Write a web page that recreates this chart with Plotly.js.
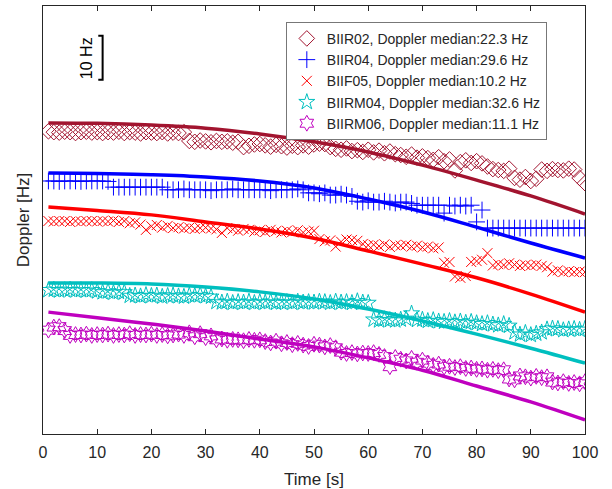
<!DOCTYPE html>
<html><head><meta charset="utf-8">
<script src="https://cdn.plot.ly/plotly-3.0.1.min.js"></script>
<style>html,body{margin:0;padding:0;background:#fff}#chart{width:612px;height:489px}</style>
</head><body><div id="chart"></div>
<script>
const time = Array.from({length: 100}, (_, i) => i + 1);
const fitTime = [1, 10, 20, 30, 40, 50, 60, 70, 80, 90, 100];

const names = [
  'BIIR02, Doppler median:22.3 Hz',
  'BIIR04, Doppler median:29.6 Hz',
  'BIIF05, Doppler median:10.2 Hz',
  'BIIRM04, Doppler median:32.6 Hz',
  'BIIRM06, Doppler median:11.1 Hz'
];

const obsBIIR02 = [68.8,68.6,68.5,68.7,68.6,68.4,68.6,68.7,68.5,68.6,
  68.4,68.6,68.5,68.7,68.4,68.6,68.5,68.3,68.6,68.5,
  68.4,68.6,68.3,68.5,68.4,68.6,
  66.6,66.4,66.7,66.5,66.3,66.6,66.4,66.5,66.2,66.4,
  65.2,65.5,65.8,65.9,
  65.6,65.3,65.7,65.4,65.1,65.5,65.2,65.6,65.3,65.8,
  66.0,65.9,65.2,64.8,64.6,64.9,64.3,64.5,64.1,64.6,
  64.0,64.4,63.8,64.2,63.6,63.4,63.0,63.5,62.8,63.1,
  62.7,62.3,62.9,62.0,62.4,59.9,61.8,62.2,61.6,62.0,
  61.5,60.8,60.2,60.0,59.8,60.3,58.2,57.8,58.4,57.5,
  58.0,60.1,59.8,60.2,60.0,59.9,60.3,60.1,58.2,57.0];

const obsBIIR04 = [57.5,57.5,57.4,57.5,57.5,57.5,57.4,57.5,57.5,57.5,57.5,57.4,
  56.1,56.1,56.1,56.1,56.1,56.1,56.1,56.1,56.1,56.1,
  55.5,55.5,55.5,55.7,55.5,55.5,55.5,55.5,55.3,55.5,55.5,55.5,55.7,55.5,55.5,55.5,55.5,55.5,55.5,55.3,55.5,55.5,55.5,55.5,55.7,55.5,
  54.8,54.8,54.6,54.8,54.3,54.3,54.5,54.3,54.0,
  52.9,52.7,53.0,52.7,52.7,52.9,52.7,52.5,52.7,52.7,52.4,
  52.0,52.0,52.0,52.0,52.0,
  50.2,
  52.0,51.8,52.0,51.8,52.0,
  48.2,50.9,
  46.8,46.8,46.8,46.8,46.8,46.8,46.8,46.8,46.8,46.8,46.8,46.8,46.8,46.8,46.8,46.8,46.8,46.8,46.8];

const obsBIIF05 = [48.4,48.3,48.4,48.4,48.2,48.4,48.3,48.4,48.4,48.3,
  48.4,48.3,48.5,48.2,48.4,47.9,48.1,47.6,46.4,47.2,
  47.5,46.9,47.3,46.8,47.0,46.7,46.9,46.6,46.8,46.9,
  46.7,46.5,45.7,46.8,46.5,46.2,46.6,46.4,46.0,46.3,
  45.9,46.4,46.1,45.8,46.2,45.9,46.3,45.8,46.0,46.2,
  44.3,43.8,44.0,42.6,43.7,44.2,44.1,43.9,43.2,42.9,
  43.0,42.7,43.1,42.5,42.9,42.8,43.0,42.6,42.8,42.4,
  42.6,42.2,42.4,38.9,39.1,35.8,35.5,35.9,39.1,39.3,
  39.6,41.1,38.3,38.6,38.4,38.8,38.5,38.2,38.4,38.3,
  38.5,38.2,37.9,36.9,37.2,36.8,37.0,36.8,36.9,36.8];

const obsBIIRM04 = [32.7,32.8,32.6,32.7,32.8,32.6,32.7,32.6,32.7,32.4,
  32.2,32.4,32.1,32.3,32.2,31.4,31.5,31.3,31.6,31.4,
  31.5,31.2,31.4,31.5,31.3,31.2,31.5,31.4,31.6,31.3,
  31.2,30.0,29.9,30.1,29.8,30.0,29.9,30.1,29.8,30.0,
  29.9,30.1,29.8,29.9,30.0,29.8,30.1,29.9,30.0,29.9,
  30.1,30.0,29.8,30.1,29.9,30.0,29.8,30.2,29.9,29.8,
  26.0,25.8,26.1,25.9,25.8,26.0,26.2,27.4,25.9,26.0,
  25.7,25.9,25.6,25.5,25.7,25.4,25.6,25.3,25.5,25.2,
  25.0,25.2,24.9,24.7,25.0,24.6,23.1,22.6,23.0,22.5,
  22.8,23.1,23.8,24.0,23.9,23.6,23.8,23.9,23.7,23.9];

const obsBIIRM06 = [23.6,24.3,24.4,23.5,22.4,22.6,22.5,22.7,22.4,22.6,
  22.5,22.7,22.4,22.6,22.5,22.8,22.4,22.6,22.5,22.7,
  22.4,22.6,22.3,22.5,22.7,22.4,23.0,22.1,22.8,21.9,
  22.3,21.4,21.6,21.3,21.5,21.4,21.2,21.5,21.3,21.4,
  21.0,20.7,21.1,20.5,20.8,20.3,20.6,20.2,19.9,20.4,
  20.2,19.8,20.1,19.6,18.6,18.3,18.5,18.2,18.4,18.3,
  18.5,18.1,17.6,15.3,17.4,17.0,16.6,17.2,16.3,16.8,
  16.1,15.6,15.9,15.2,15.4,15.1,15.3,14.9,15.0,14.7,
  14.8,14.5,14.7,14.4,14.6,12.5,12.3,13.2,13.0,12.7,
  13.1,12.8,13.0,11.8,11.6,11.9,11.5,11.7,11.4,11.9];

const fitBIIR02  = [70.7,70.6,70.2,69.5,68.2,66.4,64.1,61.1,57.7,54.1,50.0];
const fitBIIR04  = [59.3,59.2,58.9,58.4,57.5,55.9,53.4,50.5,47.0,43.4,40.0];
const fitBIIF05  = [51.6,50.8,49.8,48.2,46.6,44.5,41.6,38.6,35.5,31.8,27.7];
const fitBIIRM04 = [34.3,34.3,34.1,33.4,32.3,30.7,28.4,25.7,22.7,19.5,16.1];
const fitBIIRM06 = [27.7,26.4,25.0,23.4,21.6,19.8,17.3,14.5,10.9,7.3,3.2];

const scaleBarHz = 10;
const scaleBarTop = 90.5;

const obs = [obsBIIR02, obsBIIR04, obsBIIF05, obsBIIRM04, obsBIIRM06];
const fits = [fitBIIR02, fitBIIR04, fitBIIF05, fitBIIRM04, fitBIIRM06];
const colors = ['#A2142F', '#0000FF', '#FF0000', '#00BFBF', '#BF00BF'];
const symbols = ['diamond-open', 'cross-thin-open', 'x-thin-open', 'star-open', 'hexagram-open'];
const sizes = [12, 12, 10, 12, 12];

const traces = [];
for (let i = 0; i < 5; i++) {
  traces.push({
    x: fitTime, y: fits[i], type: 'scatter', mode: 'lines',
    line: {color: colors[i], width: 3.5, shape: 'spline'},
    showlegend: false, hoverinfo: 'skip'
  });
}
for (let i = 0; i < 5; i++) {
  traces.push({
    x: time, y: obs[i], type: 'scatter', mode: 'markers', name: names[i],
    marker: {symbol: symbols[i], size: sizes[i], color: colors[i], line: {color: colors[i], width: 1}}
  });
}

const axisColor = '#262626';
const layout = {
  width: 612, height: 489,
  margin: {l: 43, r: 27, t: 6, b: 55},
  paper_bgcolor: '#fff', plot_bgcolor: '#fff',
  font: {family: 'Liberation Sans, Arial, sans-serif', size: 16, color: axisColor},
  xaxis: {
    range: [0, 100], tickvals: [0,10,20,30,40,50,60,70,80,90,100],
    ticks: 'inside', ticklen: 5, tickcolor: axisColor, mirror: 'ticks',
    showline: true, linecolor: axisColor, linewidth: 1, showgrid: false, zeroline: false,
    tickfont: {size: 16, color: axisColor}, ticklabelstandoff: 4,
    title: {text: 'Time [s]', font: {size: 17, color: axisColor}, standoff: 13}
  },
  yaxis: {
    range: [0, 97.27], showticklabels: false, ticks: '',
    showline: true, mirror: true, linecolor: axisColor, linewidth: 1, showgrid: false, zeroline: false,
    title: {text: 'Doppler [Hz]', font: {size: 17, color: axisColor}, standoff: 8}
  },
  legend: {
    x: 0.448, y: 0.963, xanchor: 'left', yanchor: 'top',
    bgcolor: '#fff', bordercolor: '#777', borderwidth: 1,
    font: {size: 14, color: axisColor}, tracegroupgap: 0, itemwidth: 30
  },
  shapes: [{
    type: 'path', xref: 'x', yref: 'y',
    path: 'M 10.2 ' + scaleBarTop + ' L 11.0 ' + scaleBarTop + ' L 11.0 ' + (scaleBarTop - scaleBarHz) + ' L 10.2 ' + (scaleBarTop - scaleBarHz),
    line: {color: '#000', width: 2}
  }],
  annotations: [{
    x: 8.0, y: scaleBarTop - scaleBarHz / 2, xref: 'x', yref: 'y',
    text: '10 Hz', showarrow: false, textangle: -90,
    font: {size: 16, color: '#000'}
  }]
};

Plotly.newPlot('chart', traces, layout, {displayModeBar: false, staticPlot: true});
</script></body></html>
